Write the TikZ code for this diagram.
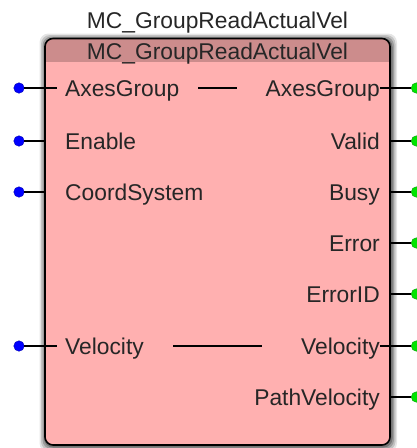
\documentclass[tikz,border=0pt]{standalone}
\usepackage{fontspec}
\setmainfont{Liberation Sans}
\begin{document}
\begin{tikzpicture}[x=1pt,y=-1pt,
  lbl/.style={font=\fontsize{22.8}{26}\selectfont, inner sep=0pt, text=black!85},
  inpin/.style={circle, fill=blue, draw=blue!70!black, inner sep=0pt, minimum size=10.5pt},
  outpin/.style={circle, fill=green!90!black, draw=green!60!black, inner sep=0pt, minimum size=10.5pt},
  wire/.style={draw=black, line width=1.1pt}
]
\useasboundingbox (0,0) rectangle (417,448);
% shadow
\foreach \o/\a in {7/0.10,5.5/0.15,4/0.2,2.5/0.25}{
  \fill[black, opacity=\a, rounded corners=9pt] (45-\o+1.5,38.5-\o+2) rectangle (390+\o,445+\o);
}
% body
\fill[fill={rgb,255:red,255;green,176;blue,176}, rounded corners=8pt] (45,38.5) rectangle (390,445);
\begin{scope}
\clip[rounded corners=8pt] (45,38.5) rectangle (390,445);
\fill[fill={rgb,255:red,204;green,140;blue,140}] (45,38.5) rectangle (390,62);
\end{scope}
\draw[black, line width=1.6pt, rounded corners=8pt] (45,38.5) rectangle (390,445);
% titles
\node[lbl, anchor=base] (title) at (217.5,28) {MC\_GroupReadActualVel};
\node[lbl, anchor=base] (head) at (217.5,59.5) {MC\_GroupReadActualVel};
% inputs
\foreach \n/\t/\y in {iag/AxesGroup/88, ien/Enable/141, ics/CoordSystem/192, ivel/Velocity/346}{
  \node[lbl, anchor=base west] (\n) at (65,\y+8.3) {\t};
  \node[inpin] (\n p) at (19,\y) {};
  \coordinate (\n e) at (45,\y);
}
\draw[wire] (iagp) -- (57,88);
\draw[wire] (ivelp) -- (57,346);
\draw[wire] (ienp) -- (iene);
\draw[wire] (icsp) -- (icse);
% outputs
\foreach \n/\t/\y in {oag/AxesGroup/88, ova/Valid/141, obu/Busy/192, oer/Error/243, oid/ErrorID/294, ovel/Velocity/346, opv/PathVelocity/397}{
  \node[lbl, anchor=base east] (\n) at (380,\y+8.3) {\t};
  \node[outpin] (\n p) at (416.5,\y) {};
  \coordinate (\n e) at (390,\y);
}
\draw[wire] (oagp) -- (oag.east |- oagp);
\draw[wire] (ovelp) -- (ovel.east |- ovelp);
\foreach \n in {ova,obu,oer,oid,opv}{\draw[wire] (\n p) -- (\n e);}
% internal links
\coordinate (a1) at (198,88); \coordinate (a2) at (237,88);
\coordinate (v1) at (173,346); \coordinate (v2) at (262,346);
\draw[wire] (a1) -- (a2);
\draw[wire] (v1) -- (v2);
\end{tikzpicture}
\end{document}
